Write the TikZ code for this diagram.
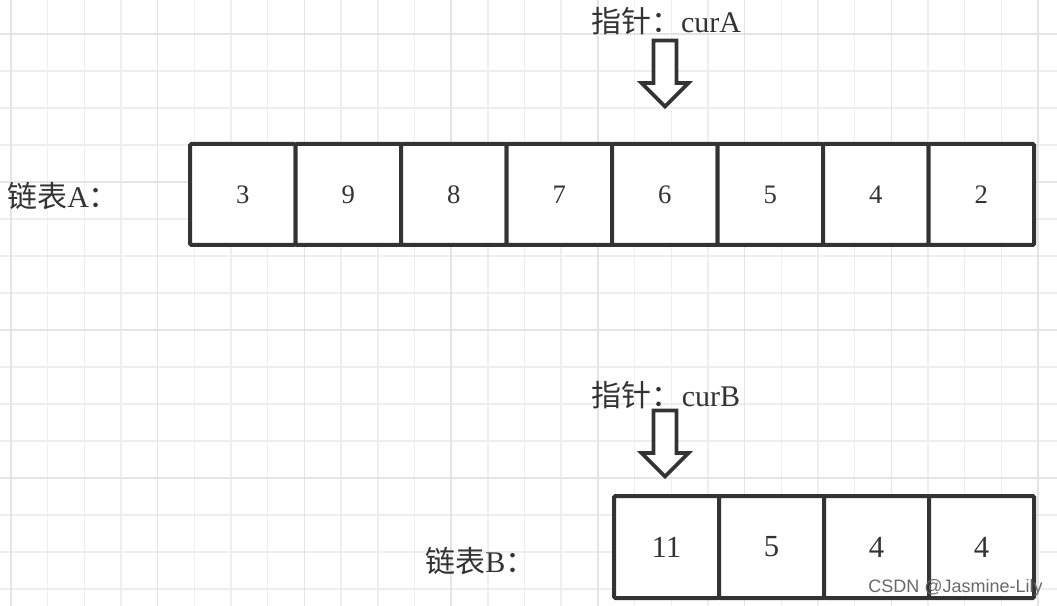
\documentclass[tikz,border=0pt]{standalone}
\usepackage{fontspec}
\setmainfont{Liberation Serif}
\newfontfamily\cjk{Noto Sans CJK SC}
\newfontfamily\wmfont{Liberation Sans}
\definecolor{linec}{RGB}{51,51,51}
\definecolor{txtc}{RGB}{51,51,51}
\definecolor{gridminor}{RGB}{238,238,238}
\definecolor{gridmajor}{RGB}{228,228,228}
\definecolor{wmc}{RGB}{105,105,105}
\begin{document}
\begin{tikzpicture}[x=0.75pt,y=-0.75pt,
  gridline/.style={draw=gridminor,line width=1.1pt},
  gridbold/.style={draw=gridmajor,line width=1.1pt},
  cellA/.style={draw=linec,fill=white,line width=3pt,rounded corners=1pt,
    minimum width=105.5*0.75pt,minimum height=101*0.75pt,inner sep=0pt,outer sep=0pt,
    text=txtc,font=\fontsize{20}{22}\selectfont},
  cellB/.style={cellA,minimum width=105*0.75pt,minimum height=102*0.75pt,
    font=\fontsize{23}{25}\selectfont},
  lbl/.style={inner sep=0pt,text=txtc,font=\fontsize{22.5}{24}\selectfont},
  blockarrow/.style={draw=linec,fill=white,line width=2.7pt,line join=miter},
  wm/.style={inner sep=0pt,text=wmc,font=\wmfont\fontsize{13.5}{15}\selectfont}
]
\useasboundingbox (0,0) rectangle (1057,606);
\fill[white] (0,0) rectangle (1057,606);
% grid
\foreach \k in {0,...,28}{\draw[gridline] ({11+36.68*\k},0) -- ({11+36.68*\k},606);}
\foreach \k in {0,...,15}{\draw[gridline] (0,{34+37*\k}) -- (1057,{34+37*\k});}
\foreach \k in {0,4,...,28}{\draw[gridbold] ({11+36.68*\k},0) -- ({11+36.68*\k},606);}
\foreach \k in {0,4,8,12}{\draw[gridbold] (0,{34+37*\k}) -- (1057,{34+37*\k});}
% list A
\foreach \v [count=\i from 0] in {3,9,8,7,6,5,4,2}{
  \node[cellA] (a\i) at ({242.75+105.5*\i},194.5) {\v};
}
% list B
\foreach \v [count=\i from 0] in {11,5,4,4}{
  \node[cellB] (b\i) at ({666.5+105*\i},547) {\v};
}
% labels
\node[lbl,anchor=west] (labA) at (7,196) {{\cjk 链表}A{\cjk ：}};
\node[lbl,anchor=west] (labB) at (425,561) {{\cjk 链表}B{\cjk ：}};
\node[lbl] (ptrA) at (666,21) {{\cjk 指针：}curA};
\node[lbl] (ptrB) at (666,395) {{\cjk 指针：}curB};
% arrows
\coordinate (arrA) at (665,40.5);
\coordinate (arrB) at (665,410.5);
\foreach \c in {arrA,arrB}{
  \draw[blockarrow,shift={(\c)}] (-11.5,0) -- ++(23,0) -- ++(0,42.5) -- ++(12,0)
    -- ++(-23.5,23.5) -- ++(-23.5,-23.5) -- ++(12,0) -- cycle;
}
% watermark
\node[wm,anchor=east] (wmark) at (1043,588) {CSDN @Jasmine-Lily};
\end{tikzpicture}
\end{document}
